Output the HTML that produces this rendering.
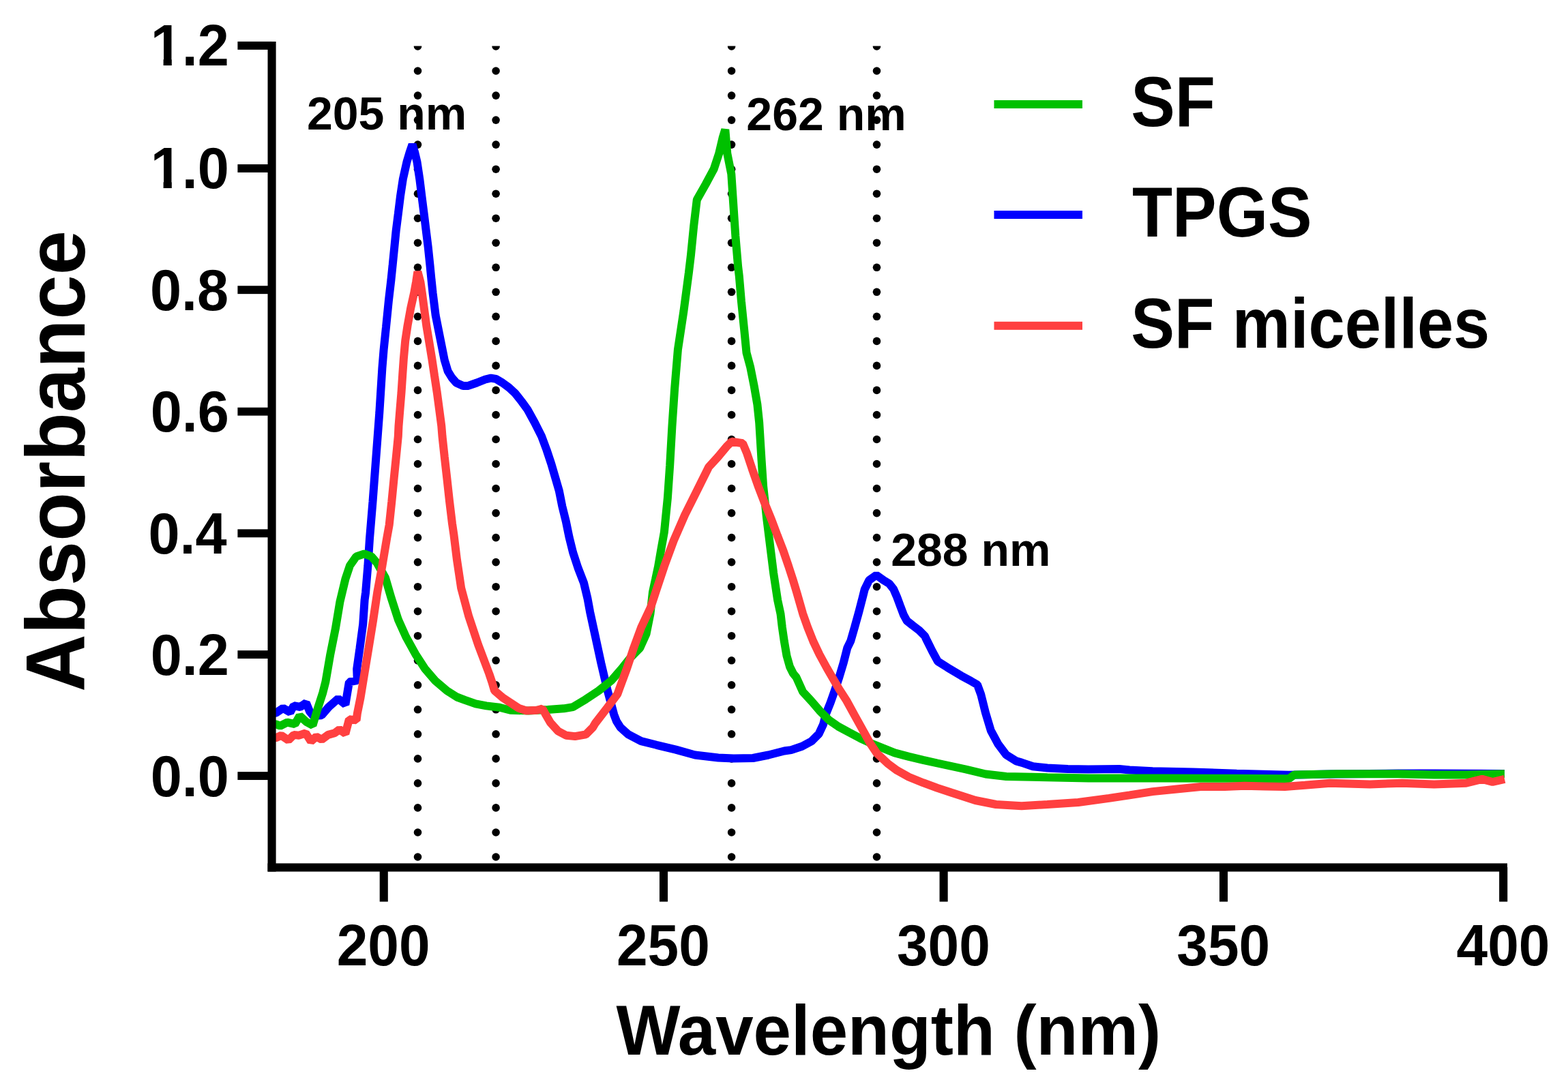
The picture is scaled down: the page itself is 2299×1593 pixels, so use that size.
<!DOCTYPE html><html><head><meta charset="utf-8"><title>UV-Vis absorbance spectra</title><style>html,body{margin:0;padding:0;background:#fff;overflow:hidden}svg{display:block}</style></head><body><svg xmlns="http://www.w3.org/2000/svg" width="2299" height="1593" viewBox="0 0 2299 1593"><defs><clipPath id="plotclip"><rect x="398" y="67.5" width="1812" height="1200"/></clipPath><clipPath id="c12"><rect x="200" y="-23.7" width="150" height="110.4"/><rect x="239.6" y="76.3" width="12.2" height="30"/><rect x="267" y="76.3" width="80" height="30"/></clipPath><clipPath id="c10"><rect x="200" y="156.4" width="150" height="110.4"/><rect x="239.6" y="256.4" width="12.2" height="30"/><rect x="267" y="256.4" width="80" height="30"/></clipPath></defs><rect width="2299" height="1593" fill="#fff"/><g clip-path="url(#plotclip)" fill="#000"><circle cx="612.5" cy="68.0" r="5.8"/><circle cx="612.5" cy="104.0" r="5.8"/><circle cx="612.5" cy="140.1" r="5.8"/><circle cx="612.5" cy="176.1" r="5.8"/><circle cx="612.5" cy="212.1" r="5.8"/><circle cx="612.5" cy="248.2" r="5.8"/><circle cx="612.5" cy="284.2" r="5.8"/><circle cx="612.5" cy="320.2" r="5.8"/><circle cx="612.5" cy="356.2" r="5.8"/><circle cx="612.5" cy="392.3" r="5.8"/><circle cx="612.5" cy="428.3" r="5.8"/><circle cx="612.5" cy="464.3" r="5.8"/><circle cx="612.5" cy="500.4" r="5.8"/><circle cx="612.5" cy="536.4" r="5.8"/><circle cx="612.5" cy="572.4" r="5.8"/><circle cx="612.5" cy="608.5" r="5.8"/><circle cx="612.5" cy="644.5" r="5.8"/><circle cx="612.5" cy="680.5" r="5.8"/><circle cx="612.5" cy="716.5" r="5.8"/><circle cx="612.5" cy="752.6" r="5.8"/><circle cx="612.5" cy="788.6" r="5.8"/><circle cx="612.5" cy="824.6" r="5.8"/><circle cx="612.5" cy="860.7" r="5.8"/><circle cx="612.5" cy="896.7" r="5.8"/><circle cx="612.5" cy="932.7" r="5.8"/><circle cx="612.5" cy="968.8" r="5.8"/><circle cx="612.5" cy="1004.8" r="5.8"/><circle cx="612.5" cy="1040.8" r="5.8"/><circle cx="612.5" cy="1076.8" r="5.8"/><circle cx="612.5" cy="1112.9" r="5.8"/><circle cx="612.5" cy="1148.9" r="5.8"/><circle cx="612.5" cy="1184.9" r="5.8"/><circle cx="612.5" cy="1221.0" r="5.8"/><circle cx="612.5" cy="1257.0" r="5.8"/><circle cx="727.1" cy="68.0" r="5.8"/><circle cx="727.1" cy="104.0" r="5.8"/><circle cx="727.1" cy="140.1" r="5.8"/><circle cx="727.1" cy="176.1" r="5.8"/><circle cx="727.1" cy="212.1" r="5.8"/><circle cx="727.1" cy="248.2" r="5.8"/><circle cx="727.1" cy="284.2" r="5.8"/><circle cx="727.1" cy="320.2" r="5.8"/><circle cx="727.1" cy="356.2" r="5.8"/><circle cx="727.1" cy="392.3" r="5.8"/><circle cx="727.1" cy="428.3" r="5.8"/><circle cx="727.1" cy="464.3" r="5.8"/><circle cx="727.1" cy="500.4" r="5.8"/><circle cx="727.1" cy="536.4" r="5.8"/><circle cx="727.1" cy="572.4" r="5.8"/><circle cx="727.1" cy="608.5" r="5.8"/><circle cx="727.1" cy="644.5" r="5.8"/><circle cx="727.1" cy="680.5" r="5.8"/><circle cx="727.1" cy="716.5" r="5.8"/><circle cx="727.1" cy="752.6" r="5.8"/><circle cx="727.1" cy="788.6" r="5.8"/><circle cx="727.1" cy="824.6" r="5.8"/><circle cx="727.1" cy="860.7" r="5.8"/><circle cx="727.1" cy="896.7" r="5.8"/><circle cx="727.1" cy="932.7" r="5.8"/><circle cx="727.1" cy="968.8" r="5.8"/><circle cx="727.1" cy="1004.8" r="5.8"/><circle cx="727.1" cy="1040.8" r="5.8"/><circle cx="727.1" cy="1076.8" r="5.8"/><circle cx="727.1" cy="1112.9" r="5.8"/><circle cx="727.1" cy="1148.9" r="5.8"/><circle cx="727.1" cy="1184.9" r="5.8"/><circle cx="727.1" cy="1221.0" r="5.8"/><circle cx="727.1" cy="1257.0" r="5.8"/><circle cx="1072.6" cy="68.0" r="5.8"/><circle cx="1072.6" cy="104.0" r="5.8"/><circle cx="1072.6" cy="140.1" r="5.8"/><circle cx="1072.6" cy="176.1" r="5.8"/><circle cx="1072.6" cy="212.1" r="5.8"/><circle cx="1072.6" cy="248.2" r="5.8"/><circle cx="1072.6" cy="284.2" r="5.8"/><circle cx="1072.6" cy="320.2" r="5.8"/><circle cx="1072.6" cy="356.2" r="5.8"/><circle cx="1072.6" cy="392.3" r="5.8"/><circle cx="1072.6" cy="428.3" r="5.8"/><circle cx="1072.6" cy="464.3" r="5.8"/><circle cx="1072.6" cy="500.4" r="5.8"/><circle cx="1072.6" cy="536.4" r="5.8"/><circle cx="1072.6" cy="572.4" r="5.8"/><circle cx="1072.6" cy="608.5" r="5.8"/><circle cx="1072.6" cy="644.5" r="5.8"/><circle cx="1072.6" cy="680.5" r="5.8"/><circle cx="1072.6" cy="716.5" r="5.8"/><circle cx="1072.6" cy="752.6" r="5.8"/><circle cx="1072.6" cy="788.6" r="5.8"/><circle cx="1072.6" cy="824.6" r="5.8"/><circle cx="1072.6" cy="860.7" r="5.8"/><circle cx="1072.6" cy="896.7" r="5.8"/><circle cx="1072.6" cy="932.7" r="5.8"/><circle cx="1072.6" cy="968.8" r="5.8"/><circle cx="1072.6" cy="1004.8" r="5.8"/><circle cx="1072.6" cy="1040.8" r="5.8"/><circle cx="1072.6" cy="1076.8" r="5.8"/><circle cx="1072.6" cy="1112.9" r="5.8"/><circle cx="1072.6" cy="1148.9" r="5.8"/><circle cx="1072.6" cy="1184.9" r="5.8"/><circle cx="1072.6" cy="1221.0" r="5.8"/><circle cx="1072.6" cy="1257.0" r="5.8"/><circle cx="1285.5" cy="68.0" r="5.8"/><circle cx="1285.5" cy="104.0" r="5.8"/><circle cx="1285.5" cy="140.1" r="5.8"/><circle cx="1285.5" cy="176.1" r="5.8"/><circle cx="1285.5" cy="212.1" r="5.8"/><circle cx="1285.5" cy="248.2" r="5.8"/><circle cx="1285.5" cy="284.2" r="5.8"/><circle cx="1285.5" cy="320.2" r="5.8"/><circle cx="1285.5" cy="356.2" r="5.8"/><circle cx="1285.5" cy="392.3" r="5.8"/><circle cx="1285.5" cy="428.3" r="5.8"/><circle cx="1285.5" cy="464.3" r="5.8"/><circle cx="1285.5" cy="500.4" r="5.8"/><circle cx="1285.5" cy="536.4" r="5.8"/><circle cx="1285.5" cy="572.4" r="5.8"/><circle cx="1285.5" cy="608.5" r="5.8"/><circle cx="1285.5" cy="644.5" r="5.8"/><circle cx="1285.5" cy="680.5" r="5.8"/><circle cx="1285.5" cy="716.5" r="5.8"/><circle cx="1285.5" cy="752.6" r="5.8"/><circle cx="1285.5" cy="788.6" r="5.8"/><circle cx="1285.5" cy="824.6" r="5.8"/><circle cx="1285.5" cy="860.7" r="5.8"/><circle cx="1285.5" cy="896.7" r="5.8"/><circle cx="1285.5" cy="932.7" r="5.8"/><circle cx="1285.5" cy="968.8" r="5.8"/><circle cx="1285.5" cy="1004.8" r="5.8"/><circle cx="1285.5" cy="1040.8" r="5.8"/><circle cx="1285.5" cy="1076.8" r="5.8"/><circle cx="1285.5" cy="1112.9" r="5.8"/><circle cx="1285.5" cy="1148.9" r="5.8"/><circle cx="1285.5" cy="1184.9" r="5.8"/><circle cx="1285.5" cy="1221.0" r="5.8"/><circle cx="1285.5" cy="1257.0" r="5.8"/></g><polyline points="398.5,1046.0 404.6,1045.7 415.0,1038.7 425.4,1044.8 430.7,1035.2 440.2,1037.0 448.9,1030.9 454.2,1043.9 459.4,1050.0 471.6,1049.2 482.0,1037.0 495.9,1024.8 506.4,1033.5 511.9,1000.4 523.8,998.0 523.2,981.3 527.4,951.5 532.2,915.8 534.6,880.0 536.1,869.1 539.4,829.6 542.0,790.0 546.5,735.8 551.4,670.5 556.3,605.3 560.4,540.0 562.6,513.0 566.0,480.0 570.0,440.0 573.5,410.0 575.7,388.4 578.2,363.3 580.7,338.2 583.9,313.1 587.0,287.9 590.8,262.8 596.4,237.7 600.5,224.0 604.6,211.8 608.3,224.0 611.5,237.7 615.3,262.8 618.4,287.9 621.6,313.1 624.7,338.2 627.8,363.3 630.4,388.4 632.5,410.0 634.6,430.0 638.7,462.7 645.2,495.3 651.7,528.0 656.6,544.3 662.5,554.0 669.0,561.5 679.0,566.0 686.5,565.9 699.1,561.5 711.6,556.5 719.8,554.6 727.3,555.9 736.7,561.5 746.1,568.4 755.6,577.2 765.0,589.1 773.1,600.2 784.0,620.0 794.2,640.3 801.5,660.0 808.3,680.5 814.0,700.0 819.8,720.0 824.3,742.6 829.9,765.2 834.5,787.8 840.1,810.4 847.5,833.0 856.0,855.0 861.5,878.0 865.1,897.7 873.3,935.4 881.4,973.0 890.2,1010.7 900.3,1048.4 904.0,1058.0 909.7,1067.0 921.4,1077.4 940.0,1087.1 962.6,1092.8 990.9,1099.6 1019.2,1107.5 1053.1,1111.5 1075.7,1112.6 1104.0,1112.0 1126.6,1107.5 1150.0,1101.5 1160.0,1100.1 1176.0,1094.7 1189.9,1087.3 1200.6,1076.6 1207.0,1062.7 1211.2,1046.7 1217.6,1030.7 1224.0,1012.6 1230.4,993.4 1236.8,972.0 1242.2,950.7 1247.3,940.2 1253.1,919.8 1258.8,899.4 1263.7,880.6 1267.8,864.3 1274.3,851.2 1284.9,843.5 1295.5,851.2 1303.7,856.1 1310.2,864.3 1315.1,875.7 1320.0,888.8 1324.9,901.8 1329.8,910.8 1338.0,917.3 1347.8,924.7 1355.9,932.9 1359.2,939.8 1367.1,955.6 1375.0,970.1 1389.5,979.3 1409.3,991.2 1423.8,999.1 1433.0,1004.4 1438.3,1018.9 1444.9,1045.2 1452.8,1071.6 1463.4,1091.4 1475.2,1107.2 1490.0,1116.4 1497.9,1118.6 1514.5,1124.2 1535.6,1126.5 1565.7,1128.0 1595.9,1128.5 1641.1,1128.0 1656.1,1129.5 1690.0,1131.2 1748.7,1132.4 1813.3,1134.8 1889.6,1136.8 1950.0,1135.5 2050.0,1134.5 2103.0,1134.5 2206.0,1135.0" fill="none" stroke="#0000FF" stroke-width="12" stroke-linejoin="bevel" stroke-linecap="butt"/><polyline points="398.5,1063.0 404.6,1062.2 410.7,1064.8 421.1,1059.6 432.4,1062.2 439.4,1050.0 448.9,1058.7 458.5,1063.9 466.3,1037.8 473.3,1016.1 477.4,1000.0 484.0,961.4 491.9,921.9 498.5,882.3 506.4,849.3 513.0,829.6 522.3,816.4 534.1,812.4 544.7,816.4 552.6,825.6 565.0,847.5 573.8,877.7 583.9,909.0 595.2,934.1 609.0,959.2 622.8,980.6 637.8,998.2 655.4,1013.2 670.0,1022.5 681.7,1026.8 697.4,1032.3 713.1,1035.4 732.6,1037.8 748.3,1041.7 775.0,1042.5 803.1,1040.9 826.6,1039.3 840.0,1037.1 858.8,1025.8 877.7,1013.2 896.5,998.1 903.0,990.7 912.8,979.3 925.0,964.0 938.2,950.5 947.5,930.0 953.5,900.0 957.0,868.4 961.0,850.0 965.1,830.8 969.5,805.0 973.9,780.5 978.9,730.3 982.2,682.4 985.4,625.9 989.2,569.4 993.9,512.9 1002.4,456.5 1009.9,400.0 1012.8,375.8 1017.3,330.6 1021.8,293.0 1034.6,270.4 1046.7,247.8 1054.2,225.2 1059.5,202.6 1063.3,190.0 1066.3,225.2 1072.3,255.3 1075.3,300.5 1078.3,345.7 1082.1,390.8 1083.8,405.0 1086.9,441.5 1091.1,482.9 1094.5,517.4 1100.1,538.2 1105.6,565.8 1110.4,593.4 1113.2,620.0 1116.6,675.4 1119.1,713.1 1122.0,740.0 1124.1,760.0 1129.1,800.2 1134.1,840.3 1140.2,880.5 1144.5,900.4 1146.8,920.0 1149.8,940.6 1153.5,962.0 1158.0,978.0 1163.0,988.0 1167.5,993.4 1177.1,1014.7 1189.9,1028.6 1202.7,1043.5 1215.5,1056.3 1229.4,1065.9 1245.4,1074.5 1261.4,1083.0 1277.4,1090.5 1294.4,1097.4 1311.8,1104.4 1332.6,1109.9 1353.5,1114.8 1374.4,1119.5 1395.3,1124.0 1416.1,1128.5 1445.2,1135.5 1475.3,1139.0 1535.6,1140.3 1595.9,1141.5 1700.0,1141.5 1807.4,1141.7 1889.6,1142.3 1897.9,1136.4 1960.0,1135.2 2049.8,1135.2 2102.7,1136.4 2149.6,1136.4 2206.0,1135.2" fill="none" stroke="#00C000" stroke-width="12" stroke-linejoin="bevel" stroke-linecap="butt"/><polyline points="398.5,1082.0 404.6,1082.2 412.4,1078.7 422.8,1085.7 430.7,1077.9 438.5,1078.7 448.1,1075.3 455.9,1087.4 463.7,1080.5 471.6,1084.8 481.1,1077.9 490.7,1075.3 497.7,1070.0 506.4,1076.1 511.9,1055.2 522.6,1056.4 523.8,1046.9 528.6,1023.0 534.4,987.5 540.6,950.0 547.3,908.7 553.2,869.1 560.5,829.6 567.1,790.0 570.7,770.0 574.3,735.8 577.8,700.0 580.8,670.5 583.8,640.0 584.5,624.7 586.5,600.0 588.5,575.8 590.2,550.0 591.8,526.8 594.2,500.0 597.5,478.0 602.2,452.0 607.3,429.0 610.2,413.0 612.4,398.5 616.5,414.0 618.7,429.0 625.3,478.0 629.3,502.0 633.4,527.0 637.0,551.0 640.8,576.0 644.0,600.0 647.3,625.0 648.5,640.0 651.8,670.5 655.5,703.0 659.1,735.8 663.0,768.0 665.5,785.0 670.0,821.4 676.2,862.8 687.3,904.2 701.1,945.7 717.3,988.5 721.5,1001.0 725.0,1013.0 736.6,1022.9 748.3,1030.7 760.1,1038.6 771.8,1042.5 787.5,1041.7 795.3,1039.5 799.2,1046.4 807.0,1060.0 818.3,1072.5 830.1,1078.8 843.1,1080.1 858.8,1077.4 869.2,1067.0 872.7,1061.0 890.2,1038.3 905.3,1018.2 908.0,1010.8 919.1,980.6 929.1,950.5 940.2,920.3 954.3,890.2 961.4,868.4 973.9,830.8 987.7,793.1 1004.1,755.4 1022.9,717.7 1039.2,685.0 1052.6,670.4 1065.1,655.3 1072.7,647.7 1089.0,650.3 1095.3,665.3 1102.8,687.9 1111.6,713.1 1121.2,738.0 1131.0,762.0 1140.0,786.0 1148.5,808.0 1156.0,830.0 1162.5,850.0 1168.5,870.0 1177.2,900.4 1184.3,920.5 1192.3,940.6 1201.5,960.0 1212.4,980.0 1224.0,1000.0 1229.8,1010.0 1241.1,1027.5 1252.8,1048.8 1264.6,1070.2 1275.2,1089.4 1285.9,1105.4 1290.9,1109.9 1301.3,1119.7 1315.2,1130.1 1332.6,1139.8 1353.5,1148.2 1374.4,1155.9 1395.3,1162.8 1430.1,1174.0 1460.3,1180.0 1497.9,1182.2 1535.6,1180.0 1580.8,1177.0 1626.0,1170.9 1656.1,1166.4 1690.0,1161.1 1725.2,1157.5 1760.5,1154.0 1795.7,1154.0 1825.0,1152.8 1854.4,1153.4 1883.8,1154.0 1913.1,1151.7 1950.0,1148.7 2008.7,1150.5 2055.7,1148.7 2102.7,1150.5 2149.6,1148.7 2173.1,1142.9 2188.4,1147.0 2206.0,1142.9" fill="none" stroke="#FF4040" stroke-width="12" stroke-linejoin="bevel" stroke-linecap="butt"/><g fill="#000"><rect x="392.5" y="61" width="12.1" height="1217.5"/><rect x="392.5" y="1266.4" width="1817.5" height="12.1"/><rect x="348.4" y="60.95" width="50" height="11.9"/><rect x="348.4" y="241.05" width="50" height="11.9"/><rect x="348.4" y="419.25" width="50" height="11.9"/><rect x="348.4" y="597.75" width="50" height="11.9"/><rect x="348.4" y="776.35" width="50" height="11.9"/><rect x="348.4" y="954.15" width="50" height="11.9"/><rect x="348.4" y="1132.15" width="50" height="11.9"/><rect x="556.70" y="1272" width="12.1" height="50.6"/><rect x="966.95" y="1272" width="12.1" height="50.6"/><rect x="1377.55" y="1272" width="12.1" height="50.6"/><rect x="1787.95" y="1272" width="12.1" height="50.6"/><rect x="2198.15" y="1272" width="12.1" height="50.6"/></g><rect x="1457.5" y="147" width="129.5" height="12" fill="#00C000"/><rect x="1457.5" y="309" width="129.5" height="12" fill="#0000FF"/><rect x="1457.5" y="471.8" width="129.5" height="12" fill="#FF4040"/><g font-family="'Liberation Sans', Arial, sans-serif" font-weight="bold" fill="#000"><text clip-path="url(#c12)" x="220.72" y="96.30" font-size="85" textLength="115.21" lengthAdjust="spacingAndGlyphs">1.2</text><text clip-path="url(#c10)" x="220.72" y="276.40" font-size="85" textLength="115.21" lengthAdjust="spacingAndGlyphs">1.0</text><text x="219.89" y="454.60" font-size="85" textLength="115.21" lengthAdjust="spacingAndGlyphs">0.8</text><text x="220.72" y="633.10" font-size="85" textLength="115.21" lengthAdjust="spacingAndGlyphs">0.6</text><text x="217.40" y="811.70" font-size="85" textLength="115.21" lengthAdjust="spacingAndGlyphs">0.4</text><text x="220.72" y="989.50" font-size="85" textLength="115.21" lengthAdjust="spacingAndGlyphs">0.2</text><text x="220.72" y="1167.50" font-size="85" textLength="115.21" lengthAdjust="spacingAndGlyphs">0.0</text><text x="493.67" y="1415.50" font-size="85" textLength="136.87" lengthAdjust="spacingAndGlyphs">200</text><text x="903.92" y="1415.50" font-size="85" textLength="136.87" lengthAdjust="spacingAndGlyphs">250</text><text x="1314.93" y="1415.50" font-size="85" textLength="136.87" lengthAdjust="spacingAndGlyphs">300</text><text x="1725.33" y="1415.50" font-size="85" textLength="136.87" lengthAdjust="spacingAndGlyphs">350</text><text x="2135.53" y="1415.50" font-size="85" textLength="136.87" lengthAdjust="spacingAndGlyphs">400</text><text x="449.96" y="190.40" font-size="68" textLength="234.36" lengthAdjust="spacingAndGlyphs">205 nm</text><text x="1094.36" y="190.50" font-size="68" textLength="234.36" lengthAdjust="spacingAndGlyphs">262 nm</text><text x="1306.16" y="830.00" font-size="68" textLength="234.36" lengthAdjust="spacingAndGlyphs">288 nm</text><text x="1658.30" y="184.60" font-size="104.5" textLength="123.67" lengthAdjust="spacingAndGlyphs">SF</text><text x="1660.03" y="347.10" font-size="104.5" textLength="263.46" lengthAdjust="spacingAndGlyphs">TPGS</text><text x="1658.13" y="509.50" font-size="104.5" textLength="526.18" lengthAdjust="spacingAndGlyphs">SF micelles</text><text x="903.50" y="1546.90" font-size="104.4" textLength="798.63" lengthAdjust="spacingAndGlyphs">Wavelength (nm)</text><text transform="translate(124 1011.6) rotate(-90)" x="-3.51" y="0" font-size="122" textLength="676.88" lengthAdjust="spacingAndGlyphs">Absorbance</text></g></svg></body></html>
